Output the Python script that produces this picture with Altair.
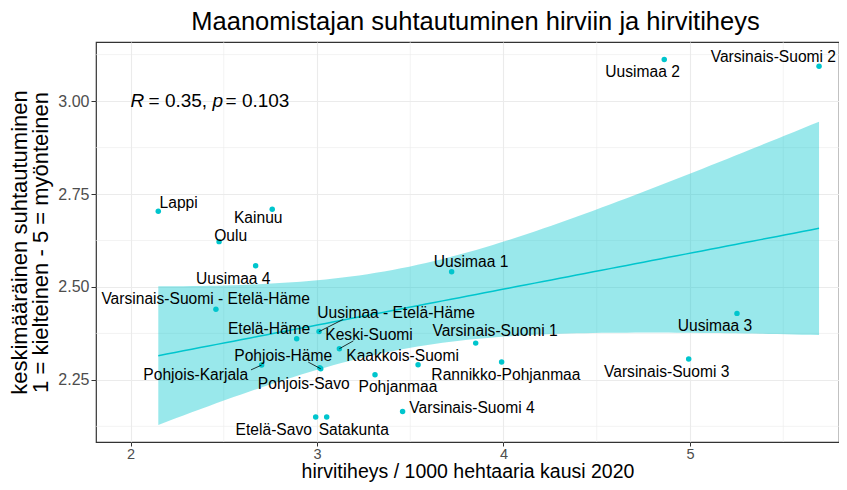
import altair as alt
import pandas as pd
import numpy as np

# ---- data ----
names = ["Lappi", "Kainuu", "Oulu", "Uusimaa 4", "Varsinais-Suomi - Etelä-Häme",
         "Etelä-Häme", "Uusimaa - Etelä-Häme", "Keski-Suomi", "Pohjois-Karjala",
         "Pohjois-Häme", "Pohjois-Savo", "Kaakkois-Suomi", "Pohjanmaa", "Etelä-Savo",
         "Satakunta", "Varsinais-Suomi 4", "Uusimaa 1", "Varsinais-Suomi 1",
         "Rannikko-Pohjanmaa", "Varsinais-Suomi 3", "Uusimaa 3", "Uusimaa 2",
         "Varsinais-Suomi 2"]
density = [2.149, 2.760, 2.475, 2.671, 2.458, 2.891, 3.011, 3.120, 2.703, 3.020,
           3.015, 3.542, 3.311, 2.993, 3.052, 3.459, 3.722, 3.851, 3.990, 4.993,
           5.252, 4.862, 5.692]
attitude = [2.704, 2.709, 2.622, 2.557, 2.440, 2.361, 2.380, 2.334, 2.290, 2.280,
            2.283, 2.291, 2.264, 2.150, 2.150, 2.165, 2.541, 2.349, 2.298, 2.306,
            2.429, 3.112, 3.094]
# repelled label anchor positions (data units)
label_x = [2.258, 2.685, 2.537, 2.551, 2.403, 2.743, 3.424, 3.279, 2.350, 2.819,
           2.929, 3.459, 3.434, 2.768, 3.197, 3.831, 3.826, 3.955, 4.013, 4.875,
           5.134, 4.746, 5.447]
label_y = [2.727, 2.685, 2.637, 2.522, 2.468, 2.387, 2.430, 2.371, 2.262, 2.315,
           2.239, 2.315, 2.232, 2.116, 2.116, 2.175, 2.567, 2.382, 2.262, 2.270,
           2.395, 3.077, 3.119]
# connector segments (label side ends)
seg_names = ["Uusimaa - Etelä-Häme", "Keski-Suomi", "Pohjois-Häme", "Pohjois-Karjala"]
seg_end_x = [3.141, 3.195, 2.953, 2.646]
seg_end_y = [2.413, 2.355, 2.298, 2.277]

x_ticks = [2, 3, 4, 5]
y_ticks = [2.25, 2.50, 2.75, 3.00]
x_minor = [2.5, 3.5, 4.5, 5.5]
y_minor = [2.125, 2.375, 2.625, 2.875, 3.125]
x_domain = [1.815, 5.799]
y_domain = [2.083, 3.159]

stat_x = [2.0]
stat_y = [3.0]
stat_parts = ["R", "= 0.35,", "p", "= 0.103"]

TEAL = "#00C5CD"
FONT = "Liberation Sans"

# ---- tables ----
pts = pd.DataFrame({"name": names, "x": density, "y": attitude,
                    "lx": label_x, "ly": label_y})

# linear model with 95% confidence band (geom_smooth(method="lm"))
xa = np.array(density)
ya = np.array(attitude)
n = len(xa)
slope, intercept = np.polyfit(xa, ya, 1)
resid = ya - (intercept + slope * xa)
s = np.sqrt(np.sum(resid ** 2) / (n - 2))
sxx = np.sum((xa - xa.mean()) ** 2)
t_crit = 2.0796  # t(0.975, df = 21)
grid = np.linspace(xa.min(), xa.max(), 80)
fit = intercept + slope * grid
se = s * np.sqrt(1.0 / n + (grid - xa.mean()) ** 2 / sxx)
band = pd.DataFrame({"x": grid, "fit": fit, "lo": fit - t_crit * se, "hi": fit + t_crit * se})

seg_df = pts.set_index("name").loc[seg_names][["x", "y"]].reset_index()
seg_df["x2"] = seg_end_x
seg_df["y2"] = seg_end_y

xs = alt.Scale(domain=x_domain, nice=False, zero=False)
ys = alt.Scale(domain=y_domain, nice=False, zero=False)
x_axis = alt.Axis(values=x_ticks, title="hirvitiheys / 1000 hehtaaria kausi 2020", format="d",
                  titleBaseline="alphabetic", titleY=35.5, titleFontSize=19.5,
                  labelFontSize=14.5, labelPadding=1, tickSize=4)
y_axis = alt.Axis(values=y_ticks, format=".2f",
                  title=["keskimääräinen suhtautuminen", "1 = kielteinen - 5 = myönteinen"])


def X(field):
    return alt.X(field, scale=xs, axis=x_axis)


def Y(field):
    return alt.Y(field, scale=ys, axis=y_axis)


minor_v = alt.Chart(pd.DataFrame({"x": x_minor})).mark_rule(
    color="#EBEBEB", strokeWidth=0.6).encode(x=X("x:Q"))
minor_h = alt.Chart(pd.DataFrame({"y": y_minor})).mark_rule(
    color="#EBEBEB", strokeWidth=0.6).encode(y=Y("y:Q"))

ribbon = alt.Chart(band).mark_area(color=TEAL, opacity=0.4).encode(
    x=X("x:Q"), y=Y("lo:Q"), y2="hi:Q")
line = alt.Chart(band).mark_line(color=TEAL, strokeWidth=1.5).encode(
    x=X("x:Q"), y=Y("fit:Q"))

points = alt.Chart(pts).mark_circle(color=TEAL, size=30, opacity=1).encode(
    x=X("x:Q"), y=Y("y:Q"))

segs = alt.Chart(seg_df).mark_rule(color="black", strokeWidth=0.8).encode(
    x=X("x:Q"), y=Y("y:Q"), x2="x2:Q", y2="y2:Q")

labels = alt.Chart(pts).mark_text(font=FONT, fontSize=15.6, color="black",
                                  align="center", baseline="middle", clip=True).encode(
    x=X("lx:Q"), y=Y("ly:Q"), text="name:N")

stat_df = pd.DataFrame({"x": stat_x * 4, "y": stat_y * 4, "t": stat_parts})
stat_layers = []
offsets = [0, 18, 82, 95]
styles = ["italic", "normal", "italic", "normal"]
for i in range(4):
    stat_layers.append(
        alt.Chart(stat_df.iloc[[i]]).mark_text(font=FONT, fontSize=19, color="black",
                                               align="left", baseline="middle",
                                               dx=offsets[i], fontStyle=styles[i]).encode(
            x=X("x:Q"), y=Y("y:Q"), text="t:N"))

chart = alt.layer(minor_v, minor_h, ribbon, line, points, segs, labels, *stat_layers).properties(
    width=743, height=400,
    title=alt.TitleParams("Maanomistajan suhtautuminen hirviin ja hirvitiheys",
                          font=FONT, fontSize=25.5, fontWeight="normal", color="black",
                          anchor="middle", offset=6, dx=8),
    autosize=alt.AutoSizeParams(type="none"),
    padding={"left": 88, "top": 34, "right": 0, "bottom": 40},
).configure_view(stroke="#333333", strokeWidth=1.2).configure_axis(
    grid=True, gridColor="#EBEBEB", gridWidth=1.1, domain=False,
    labelFont=FONT, labelFontSize=16, labelColor="#4D4D4D",
    tickColor="#333333", tickSize=5, tickWidth=1,
    titleFont=FONT, titleFontSize=22, titleFontWeight="normal", titleColor="black",
).configure_axisY(labelPadding=2, titlePadding=5, titleLineHeight=21)

chart.save("out.html", embed_options={"renderer": "svg", "actions": False})
